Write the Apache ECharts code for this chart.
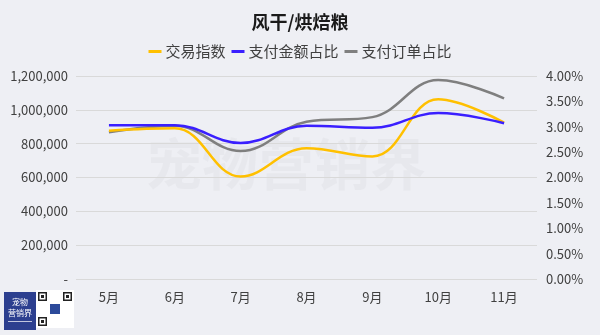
<!DOCTYPE html>
<html>
<head>
<meta charset="utf-8">
<script src="https://cdn.jsdelivr.net/npm/echarts@6/dist/echarts.min.js"></script>
<style>
  html, body { margin: 0; padding: 0; background: #EEEFF4; }
  #chart { width: 600px; height: 335px; }
</style>
</head>
<body>
<div id="chart"></div>
<script>
// Monthly figures for the 风干/烘焙粮 category
const months = ['5月', '6月', '7月', '8月', '9月', '10月', '11月'];
const tradeIndex = [877000, 891000, 606000, 773000, 724000, 1062000, 924000];
const payAmountShare = [3.03, 3.03, 2.68, 3.02, 2.98, 3.27, 3.07];
const payOrderShare = [2.89, 3.02, 2.52, 3.10, 3.19, 3.92, 3.56];
const seriesNames = ['交易指数', '支付金额占比', '支付订单占比'];

const font = "'Noto Sans CJK SC', 'Noto Sans', sans-serif";
const chart = echarts.init(document.getElementById('chart'), null, { renderer: 'canvas' });

// small QR-style badge pattern next to the logo
function qrBadge(x, y, size) {
  const parts = [{ type: 'rect', shape: { x: x, y: y, width: size, height: size }, style: { fill: '#ffffff' } }];
  const finder = (fx, fy) => {
    parts.push({ type: 'rect', shape: { x: fx, y: fy, width: 9, height: 9 }, style: { fill: '#222' } });
    parts.push({ type: 'rect', shape: { x: fx + 1.5, y: fy + 1.5, width: 6, height: 6 }, style: { fill: '#fff' } });
    parts.push({ type: 'rect', shape: { x: fx + 3, y: fy + 3, width: 3, height: 3 }, style: { fill: '#222' } });
  };
  finder(x + 2, y + 2);
  finder(x + size - 11, y + 2);
  finder(x + 2, y + size - 11);
  parts.push({ type: 'rect', shape: { x: x + size / 2 - 5, y: y + size / 2 - 5, width: 10, height: 10 }, style: { fill: '#2C4A9A' } });
  return parts;
}

chart.setOption({
  backgroundColor: '#EEEFF4',
  animation: false,
  title: {
    text: '风干/烘焙粮',
    left: 'center',
    top: 8,
    textStyle: { fontFamily: font, fontSize: 18, fontWeight: 'bold', color: '#1a1a1a' }
  },
  legend: {
    data: seriesNames,
    top: 39,
    left: 'center',
    itemWidth: 13,
    itemHeight: 3,
    itemGap: 6,
    icon: 'rect',
    textStyle: { fontFamily: font, fontSize: 15, color: '#404040', padding: [0, 0, 0, -1] }
  },
  grid: { left: 76, right: 63, top: 76, bottom: 56 },
  xAxis: {
    type: 'category',
    data: months,
    boundaryGap: true,
    axisLine: { show: false },
    axisTick: { show: false },
    axisLabel: { fontFamily: font, fontSize: 13, color: '#404040', margin: 12 }
  },
  yAxis: [
    {
      type: 'value',
      min: 0,
      max: 1200000,
      interval: 200000,
      axisLine: { show: false },
      axisTick: { show: false },
      splitLine: { lineStyle: { color: '#D9D9D9', width: 1 } },
      axisLabel: {
        fontFamily: font, fontSize: 13, color: '#404040', margin: 8,
        formatter: v => (v === 0 ? '-' : v.toLocaleString('en-US'))
      }
    },
    {
      type: 'value',
      min: 0,
      max: 4,
      interval: 0.5,
      axisLine: { show: false },
      axisTick: { show: false },
      splitLine: { show: false },
      axisLabel: {
        fontFamily: font, fontSize: 13, color: '#404040', margin: 9,
        formatter: v => v.toFixed(2) + '%'
      }
    }
  ],
  series: [
    {
      name: seriesNames[0], type: 'line', yAxisIndex: 0, data: tradeIndex,
      smooth: 0.4, symbol: 'none',
      lineStyle: { color: '#FFC000', width: 2.5 }, itemStyle: { color: '#FFC000' }, z: 3
    },
    {
      name: seriesNames[1], type: 'line', yAxisIndex: 1, data: payAmountShare,
      smooth: 0.4, symbol: 'none',
      lineStyle: { color: '#3A1FFF', width: 2.5 }, itemStyle: { color: '#3A1FFF' }, z: 4
    },
    {
      name: seriesNames[2], type: 'line', yAxisIndex: 1, data: payOrderShare,
      smooth: 0.4, symbol: 'none',
      lineStyle: { color: '#7F7F7F', width: 2.5 }, itemStyle: { color: '#7F7F7F' }, z: 2
    }
  ],
  graphic: [
    {
      type: 'text', left: 146, top: 136, z: 0, silent: true,
      style: { text: '宠物营销界', font: "bold 56px 'Noto Sans CJK SC'", fill: 'rgba(200,200,205,0.16)' }
    },
    {
      type: 'group', left: 4, top: 292,
      children: [
        { type: 'rect', shape: { x: 0, y: 0, width: 32, height: 38 }, style: { fill: '#2C3F8F' } },
        { type: 'text', style: { x: 16, y: 10, text: '宠物', align: 'center', verticalAlign: 'middle', font: "8px 'Noto Sans CJK SC'", fill: '#fff' } },
        { type: 'text', style: { x: 16, y: 21, text: '营销界', align: 'center', verticalAlign: 'middle', font: "8px 'Noto Sans CJK SC'", fill: '#fff' } },
        { type: 'rect', shape: { x: 4, y: 29, width: 24, height: 1 }, style: { fill: 'rgba(255,255,255,0.7)' } }
      ]
    },
    {
      type: 'group', left: 36, top: 290,
      children: qrBadge(0, 0, 38)
    }
  ]
});
</script>
</body>
</html>
